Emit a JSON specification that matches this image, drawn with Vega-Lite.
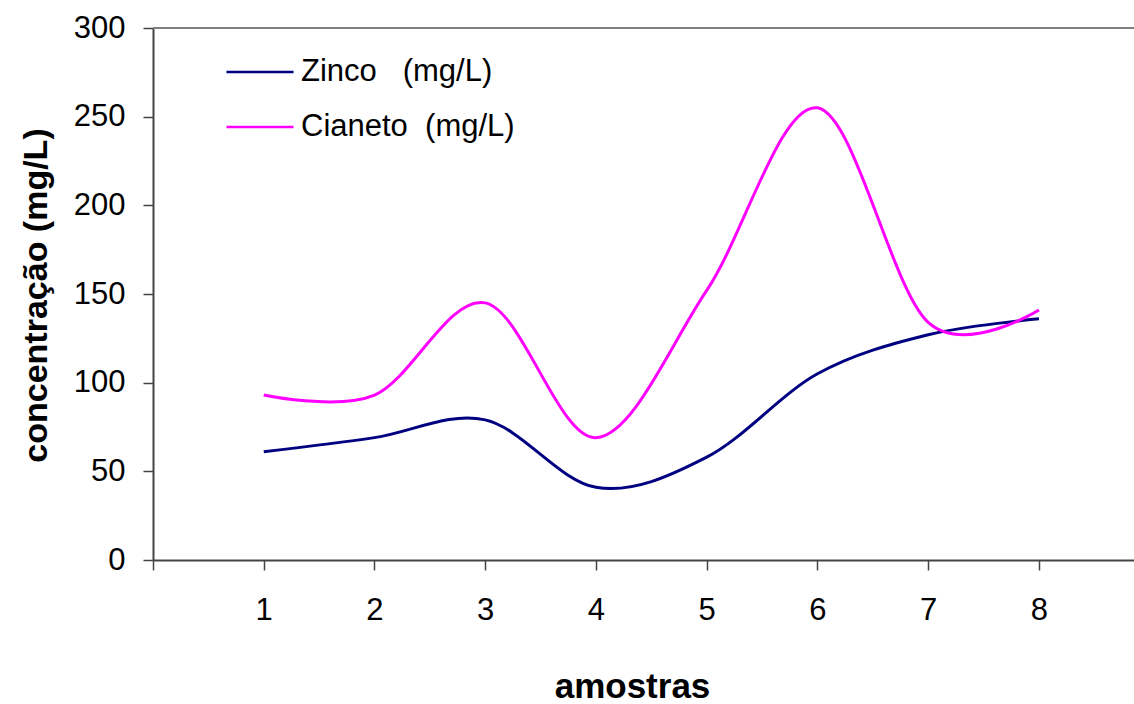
{
  "$schema": "https://vega.github.io/schema/vega-lite/v6.json",
  "width": 981,
  "height": 532,
  "autosize": {"type": "none"},
  "padding": {"left": 153, "top": 28, "right": 0, "bottom": 144},
  "background": "white",
  "config": {"view": {"stroke": null}, "font": "Liberation Sans"},
  "data": {
    "values": [
      {"amostra": 1, "serie": "Zinco\u00a0\u00a0\u00a0(mg/L)", "valor": 61},
      {"amostra": 2, "serie": "Zinco\u00a0\u00a0\u00a0(mg/L)", "valor": 69},
      {"amostra": 3, "serie": "Zinco\u00a0\u00a0\u00a0(mg/L)", "valor": 79},
      {"amostra": 4, "serie": "Zinco\u00a0\u00a0\u00a0(mg/L)", "valor": 41},
      {"amostra": 5, "serie": "Zinco\u00a0\u00a0\u00a0(mg/L)", "valor": 58},
      {"amostra": 6, "serie": "Zinco\u00a0\u00a0\u00a0(mg/L)", "valor": 105},
      {"amostra": 7, "serie": "Zinco\u00a0\u00a0\u00a0(mg/L)", "valor": 127},
      {"amostra": 8, "serie": "Zinco\u00a0\u00a0\u00a0(mg/L)", "valor": 136},
      {"amostra": 1, "serie": "Cianeto\u00a0\u00a0(mg/L)", "valor": 93},
      {"amostra": 2, "serie": "Cianeto\u00a0\u00a0(mg/L)", "valor": 93},
      {"amostra": 3, "serie": "Cianeto\u00a0\u00a0(mg/L)", "valor": 145},
      {"amostra": 4, "serie": "Cianeto\u00a0\u00a0(mg/L)", "valor": 69},
      {"amostra": 5, "serie": "Cianeto\u00a0\u00a0(mg/L)", "valor": 152},
      {"amostra": 6, "serie": "Cianeto\u00a0\u00a0(mg/L)", "valor": 255},
      {"amostra": 7, "serie": "Cianeto\u00a0\u00a0(mg/L)", "valor": 134},
      {"amostra": 8, "serie": "Cianeto\u00a0\u00a0(mg/L)", "valor": 141}
    ]
  },
  "layer": [
    {
      "mark": {"type": "line", "interpolate": "cardinal", "strokeWidth": 3},
      "encoding": {
        "x": {
          "field": "amostra",
          "type": "quantitative",
          "scale": {"domain": [0, 8.858], "nice": false, "zero": false},
          "axis": {
            "values": [0, 1, 2, 3, 4, 5, 6, 7, 8],
            "labelExpr": "datum.value == 0 ? '' : datum.label",
            "grid": false,
            "domainColor": "#444444",
            "domainWidth": 2,
            "tickColor": "#444444",
            "tickWidth": 1.5,
            "tickSize": 10,
            "labelFontSize": 31,
            "labelColor": "black",
            "labelFont": "Liberation Sans",
            "labelPadding": 25,
            "title": "amostras",
            "titleFont": "Liberation Sans",
            "titleFontSize": 35,
            "titleFontWeight": "bold",
            "titleColor": "black",
            "titleX": 479,
            "titleY": 126,
            "titleBaseline": "middle",
            "titleAnchor": "middle"
          }
        },
        "y": {
          "field": "valor",
          "type": "quantitative",
          "scale": {"domain": [0, 300], "nice": false},
          "axis": {
            "values": [0, 50, 100, 150, 200, 250, 300],
            "grid": false,
            "domainColor": "#444444",
            "domainWidth": 2,
            "tickColor": "#444444",
            "tickWidth": 1.5,
            "tickSize": 10,
            "labelFontSize": 31,
            "labelColor": "black",
            "labelFont": "Liberation Sans",
            "labelPadding": 18,
            "title": "concentração (mg/L)",
            "titleFont": "Liberation Sans",
            "titleFontSize": 34,
            "titleFontWeight": "bold",
            "titleColor": "black",
            "titleX": -117,
            "titleY": 267,
            "titleBaseline": "middle",
            "titleAnchor": "middle"
          }
        },
        "color": {
          "field": "serie",
          "type": "nominal",
          "scale": {
            "domain": ["Zinco\u00a0\u00a0\u00a0(mg/L)", "Cianeto\u00a0\u00a0(mg/L)"],
            "range": ["#000080", "#FF00FF"]
          },
          "legend": {
            "title": null,
            "orient": "none",
            "legendX": 72,
            "legendY": 9,
            "padding": 0,
            "symbolType": "stroke",
            "symbolSize": 4489,
            "symbolStrokeWidth": 2.5,
            "labelFontSize": 31,
            "labelFont": "Liberation Sans",
            "labelColor": "black",
            "labelOffset": 6,
            "rowPadding": 5,
            "labelLimit": 400
          }
        }
      }
    },
    {
      "mark": {"type": "rule", "color": "#808080", "strokeWidth": 2},
      "encoding": {"y": {"datum": 300, "type": "quantitative"}}
    }
  ]
}
